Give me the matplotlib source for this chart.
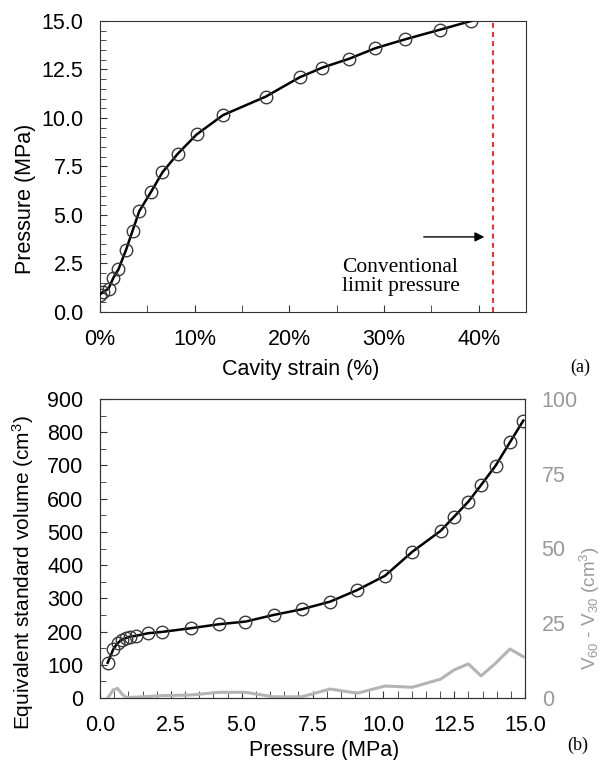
import numpy as np
import matplotlib
matplotlib.use('Agg')
import matplotlib.pyplot as plt
from matplotlib.ticker import MultipleLocator, FuncFormatter

plt.rcParams['font.family'] = ['Liberation Sans', 'DejaVu Sans']
plt.rcParams['mathtext.fontset'] = 'custom'
plt.rcParams['mathtext.rm'] = 'Liberation Sans'
plt.rcParams['mathtext.it'] = 'Liberation Sans:italic'

# (a) pression vs deformation de la cavite
deformation = [0.0, 0.35, 0.9, 1.4, 1.95, 2.75, 3.45, 4.15, 5.4, 6.6, 8.2, 10.2,
               13.0, 17.5, 21.1, 23.5, 26.3, 29.1, 32.2, 35.9, 39.2]
pression_a = [0.9, 1.05, 1.2, 1.75, 2.2, 3.2, 4.2, 5.2, 6.2, 7.2, 8.15, 9.15,
              10.15, 11.1, 12.1, 12.6, 13.05, 13.6, 14.05, 14.55, 15.0]
limite = 41.5

# (b) volume standard equivalent vs pression
pression_b = [0.27, 0.47, 0.62, 0.76, 0.9, 1.06, 1.26, 1.7, 2.2, 3.2, 4.2, 5.13,
              6.13, 7.12, 8.12, 9.08, 10.06, 11.02, 12.02, 12.5, 13.0, 13.45,
              13.96, 14.47, 14.94]
volume = [106, 147, 165, 175, 180, 185, 187, 195, 199, 210, 222, 230,
          250, 267, 290, 325, 368, 440, 503, 546, 591, 641, 699, 770, 835]
ecart = [0.0, 2.7, 3.2, 1.5, 0.3, 0.2, 0.3, 0.5, 0.8, 1.0, 1.9, 1.9,
         0.4, 0.4, 3.0, 1.6, 4.0, 3.6, 6.3, 9.4, 11.4, 7.4, 11.6, 16.4, 13.8]

fs = 15.5
gris = '#9a9a9a'

fig = plt.figure(figsize=(6.03, 7.6), dpi=100)

#Graphique (a)
ax = fig.add_axes([100/603, 1-312/760, 426/603, 291/760])
ax.plot(deformation, pression_a, color='black', lw=1.8, zorder=3)
ax.plot(deformation, pression_a, 'o', ms=9, mfc='none', mec='#3a3a3a', mew=1.0, zorder=4)
ax.axvline(limite, color='red', lw=1.2, ls=(0, (3, 2.5)))
ax.annotate('', xy=(40.6, 3.87), xytext=(34.2, 3.87),
            arrowprops=dict(arrowstyle='-|>', color='black', lw=1.0,
                            mutation_scale=14, shrinkA=0, shrinkB=0))
ax.text(25.6, 1.8, 'Conventional\nlimit pressure', family='Liberation Serif',
        fontsize=15.5, ha='left', va='center', linespacing=1.05)

ax.set_xlim(0, 45)
ax.set_ylim(0, 15)
ax.xaxis.set_major_locator(MultipleLocator(10))
ax.xaxis.set_minor_locator(MultipleLocator(5))
ax.yaxis.set_major_locator(MultipleLocator(2.5))
ax.yaxis.set_minor_locator(MultipleLocator(0.5))
ax.xaxis.set_major_formatter(FuncFormatter(lambda v, p: '%d%%' % v))
ax.yaxis.set_major_formatter(FuncFormatter(lambda v, p: '%.1f' % v))
ax.tick_params(which='both', direction='in', labelsize=fs, color='#333333')
ax.tick_params(which='major', length=5, pad=12)
ax.tick_params(which='minor', length=4)
ax.tick_params(axis='x', which='minor', length=5)
ax.set_xlabel('Cavity strain (%)', fontsize=fs)
ax.set_ylabel('Pressure (MPa)', fontsize=fs)
ax.xaxis.set_label_coords(0.47, -0.16)
ax.yaxis.set_label_coords(-0.15, 0.39)
for s in ax.spines.values():
    s.set_color('#333333')
fig.text(580/603, 1-367/760, '(a)', family='Liberation Serif', fontsize=13,
         ha='center', va='center')

#Graphique (b)
ax = fig.add_axes([100/603, 1-698/760, 425/603, 299/760])
ax2 = ax.twinx()
ax.plot(pression_b, volume, color='black', lw=1.8, zorder=3)
ax.plot(pression_b, volume, 'o', ms=9, mfc='none', mec='#3a3a3a', mew=1.0, zorder=4)
ax2.plot(pression_b, ecart, color='#b4b4b4', lw=2.2)

ax.set_xlim(0, 15)
ax.set_ylim(0, 900)
ax2.set_ylim(0, 100)
ax.xaxis.set_major_locator(MultipleLocator(2.5))
ax.xaxis.set_minor_locator(MultipleLocator(0.5))
ax.yaxis.set_major_locator(MultipleLocator(100))
ax.yaxis.set_minor_locator(MultipleLocator(50))
ax2.yaxis.set_major_locator(MultipleLocator(25))
ax.xaxis.set_major_formatter(FuncFormatter(lambda v, p: '%.1f' % v))
ax.tick_params(which='both', direction='in', labelsize=fs, color='#333333')
ax.tick_params(which='major', length=5, pad=12)
ax.tick_params(which='minor', length=4)
ax.tick_params(axis='x', which='minor', length=5)
ax2.tick_params(axis='y', length=0, pad=12, labelsize=fs, labelcolor=gris)
ax.set_xlabel('Pressure (MPa)', fontsize=fs)
ax.set_ylabel('Equivalent standard volume (cm$^3$)', fontsize=15)
ax2.set_ylabel(r'$\mathregular{V_{60}}$ - $\mathregular{V_{30}}$ (cm$^3$)', fontsize=13.5,
               color=gris)
ax.xaxis.set_label_coords(0.527, -0.14)
ax.yaxis.set_label_coords(-0.15, 0.42)
ax2.yaxis.set_label_coords(1.125, 0.30)
for s in list(ax.spines.values()) + list(ax2.spines.values()):
    s.set_color('#333333')
fig.text(578/603, 1-745/760, '(b)', family='Liberation Serif', fontsize=13,
         ha='center', va='center')

fig.savefig('out.png', dpi=100)
